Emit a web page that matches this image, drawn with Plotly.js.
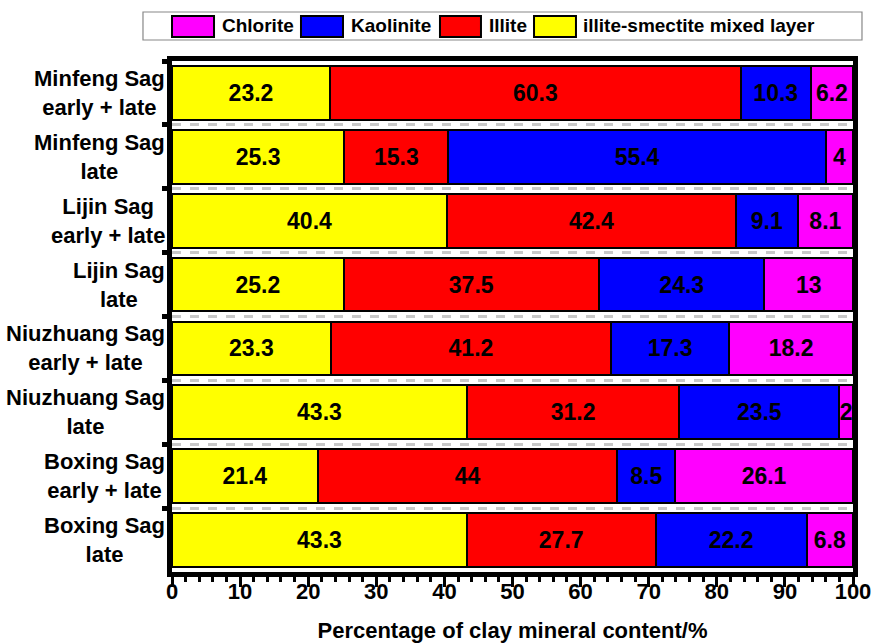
<!DOCTYPE html>
<html>
<head>
<meta charset="utf-8">
<script src="https://cdn.plot.ly/plotly-3.0.1.min.js"></script>
<style>html,body{margin:0;padding:0;background:#fff;}#chart{width:874px;height:643px;}</style>
</head>
<body>
<div id="chart"></div>
<script>
var categories = [
  "Minfeng Sag<br>early + late",
  "Minfeng Sag<br>late",
  "Lijin Sag<br>early + late",
  "Lijin Sag<br>late",
  "Niuzhuang Sag<br>early + late",
  "Niuzhuang Sag<br>late",
  "Boxing Sag<br>early + late",
  "Boxing Sag<br>late"
];
var illiteSmectite = [23.2, 25.3, 40.4, 25.2, 23.3, 43.3, 21.4, 43.3];
var illite         = [60.3, 15.3, 42.4, 37.5, 41.2, 31.2, 44, 27.7];
var kaolinite      = [10.3, 55.4, 9.1, 24.3, 17.3, 23.5, 8.5, 22.2];
var chlorite       = [6.2, 4, 8.1, 13, 18.2, 2, 26.1, 6.8];
var seriesNames = ["illite-smectite mixed layer", "Illite", "Kaolinite", "Chlorite"];
var xTickVals = [0, 10, 20, 30, 40, 50, 60, 70, 80, 90, 100];

var txtFont = "Liberation Sans, Arial, sans-serif";
var colors = ["#ffff00", "#ff0000", "#0000ff", "#ff00ff"];
var seriesVals = [illiteSmectite, illite, kaolinite, chlorite];

var data = seriesVals.map(function (vals, i) {
  return {
    type: "bar",
    orientation: "h",
    name: seriesNames[i],
    y: categories,
    x: vals,
    text: vals.map(String),
    textposition: "inside",
    insidetextanchor: "middle",
    constraintext: "none",
    textfont: {family: txtFont, size: 23, color: "#000", weight: "bold"},
    marker: {color: colors[i], line: {color: "#000", width: 2}},
    hoverinfo: "skip",
    showlegend: false
  };
});

var annotations = categories.map(function (c) {
  return {
    xref: "paper", yref: "y", x: 0, y: c,
    xanchor: "right", yanchor: "middle", xshift: -5,
    text: c, showarrow: false, align: "center",
    font: {family: txtFont, size: 22, color: "#000", weight: "bold"}
  };
});

// custom legend (order: reversed series), positions in paper coordinates
var legSwatchX = [[0, 0.0617], [0.1894, 0.2511], [0.3935, 0.4537], [0.5316, 0.5932]];
var legTextX = [0.0705, 0.2599, 0.4626, 0.6006];
var shapes = [{
  type: "rect", xref: "paper", yref: "paper",
  x0: -0.0426, x1: 1.0132, y0: 1.0411, y1: 1.0959,
  line: {color: "#888", width: 1.2}, fillcolor: "#fff", layer: "above"
}];
for (var k = 0; k < 4; k++) {
  var si = 3 - k;
  shapes.push({
    type: "rect", xref: "paper", yref: "paper",
    x0: legSwatchX[k][0], x1: legSwatchX[k][1], y0: 1.047, y1: 1.0881,
    line: {color: "#000", width: 2}, fillcolor: colors[si], layer: "above"
  });
  annotations.push({
    xref: "paper", yref: "paper", x: legTextX[k], y: 1.0685,
    xanchor: "left", yanchor: "middle", showarrow: false,
    text: seriesNames[si],
    font: {family: txtFont, size: 19, color: "#000", weight: "bold"}
  });
}

var layout = {
  width: 874, height: 643,
  margin: {l: 172, r: 21, t: 61, b: 71},
  paper_bgcolor: "#fff", plot_bgcolor: "#fff",
  barmode: "stack",
  bargap: 0.16,
  uniformtext: {minsize: 23, mode: "show"},
  showlegend: false,
  xaxis: {
    range: [0, 100],
    tickvals: xTickVals,
    ticks: "outside", ticklen: 10, tickwidth: 3, tickcolor: "#000",
    minor: {dtick: 2, ticks: "outside", ticklen: 5, tickwidth: 3, tickcolor: "#000"},
    showline: true, linecolor: "#000", linewidth: 5, mirror: true,
    showgrid: false, zeroline: false,
    ticklabelstandoff: -14,
    tickfont: {family: txtFont, size: 22, color: "#000", weight: "bold"},
    title: {text: "Percentage of clay mineral content/%", standoff: 32,
      font: {family: txtFont, size: 22, color: "#000", weight: "bold"}}
  },
  yaxis: {
    type: "category",
    autorange: "reversed",
    showticklabels: false,
    tickson: "boundaries",
    ticks: "outside", ticklen: 5, tickwidth: 5, tickcolor: "#000",
    showgrid: true, gridcolor: "#c8c8c8", gridwidth: 3, griddash: "dash",
    showline: true, linecolor: "#000", linewidth: 5, mirror: true,
    zeroline: false
  },
  shapes: shapes,
  annotations: annotations
};

Plotly.newPlot("chart", data, layout, {displayModeBar: false, staticPlot: true});
</script>
</body>
</html>
